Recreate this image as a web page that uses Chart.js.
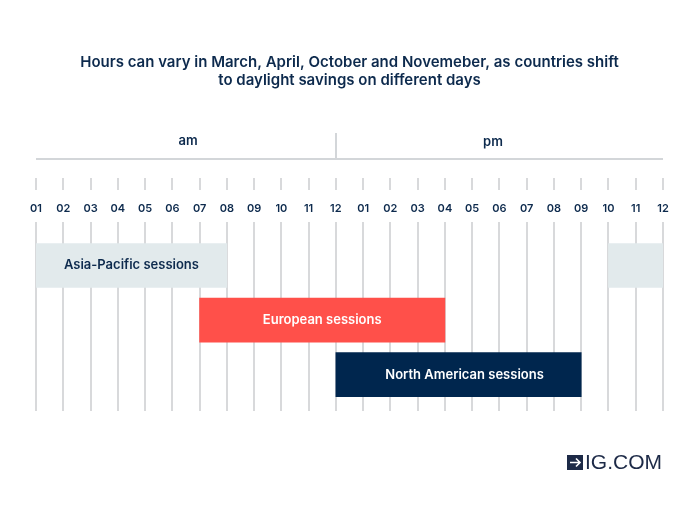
<!DOCTYPE html>
<html>
<head>
<meta charset="utf-8">
<script src="https://cdn.jsdelivr.net/npm/chart.js@4/dist/chart.umd.min.js"></script>
<style>
  html, body { margin: 0; padding: 0; background: #fff; }
  #wrap { width: 700px; height: 506px; }
</style>
</head>
<body>
<div id="wrap"><canvas id="sessionsChart"></canvas></div>
<script>
// Data
const hourLabels = ['01', '02', '03', '04', '05', '06', '07', '08', '09', '10', '11', '12',
                    '01', '02', '03', '04', '05', '06', '07', '08', '09', '10', '11', '12'];
const sessions = ['Asia-Pacific sessions', 'European sessions', 'North American sessions'];
const sessionStart = [0, 6, 11];   // index into hourLabels
const sessionEnd = [7, 15, 20];
const asiaLateStart = 21;
const asiaLateEnd = 23;
const periodLabels = ['am', 'pm'];

const navy = '#0d2a4d';
const fontFamily = 'Inter, "Noto Sans", sans-serif';

// Helpers
function hourAt(scale, i) {
  return scale.getPixelForValue(i);
}

// Plugin: header, tick marks, grid lines, bar labels, logo
const decorPlugin = {
  id: 'decor',
  beforeDatasetsDraw(chart) {
    const ctx = chart.ctx;
    const x = chart.scales.x;
    ctx.save();
    ctx.strokeStyle = '#d8d9db';
    ctx.lineWidth = 2;
    for (let i = 0; i < hourLabels.length; i++) {
      const px = Math.round(hourAt(x, i));
      ctx.beginPath();
      ctx.moveTo(px, 222);
      ctx.lineTo(px, 411);
      ctx.moveTo(px, 178);
      ctx.lineTo(px, 190);
      ctx.stroke();
    }
    // am / pm header
    ctx.strokeStyle = '#d3d6d9';
    ctx.beginPath();
    ctx.moveTo(x.left, 159);
    ctx.lineTo(x.right, 159);
    const mid = Math.round(hourAt(x, 11));
    ctx.moveTo(mid, 133);
    ctx.lineTo(mid, 159);
    ctx.stroke();
    ctx.fillStyle = navy;
    ctx.font = '600 13px ' + fontFamily;
    ctx.textAlign = 'center';
    ctx.textBaseline = 'middle';
    ctx.fillText(periodLabels[0], 188, 141);
    ctx.fillText(periodLabels[1], 493, 142);
    ctx.restore();
  },
  afterDatasetsDraw(chart) {
    const ctx = chart.ctx;
    const meta = chart.getDatasetMeta(0);
    ctx.save();
    ctx.font = '600 13px ' + fontFamily;
    ctx.textAlign = 'center';
    ctx.textBaseline = 'middle';
    meta.data.forEach((bar, i) => {
      const left = Math.min(bar.x, bar.base);
      const right = Math.max(bar.x, bar.base);
      ctx.fillStyle = i === 0 ? navy : '#ffffff';
      const shift = i === 2 ? 6 : 0;
      ctx.fillText(sessions[i], (left + right) / 2 + shift, bar.y);
    });
    // logo
    ctx.fillStyle = '#1d2a47';
    ctx.fillRect(567, 455, 16, 15);
    ctx.strokeStyle = '#ffffff';
    ctx.lineWidth = 1.6;
    ctx.beginPath();
    ctx.moveTo(570, 462.5);
    ctx.lineTo(580, 462.5);
    ctx.moveTo(576, 458.5);
    ctx.lineTo(580, 462.5);
    ctx.lineTo(576, 466.5);
    ctx.stroke();
    ctx.fillStyle = '#1d2a47';
    ctx.font = '400 21px "Liberation Sans", Arial, sans-serif';
    ctx.textAlign = 'left';
    ctx.fillText('IG.COM', 585, 463);
    ctx.restore();
  }
};

const ctx = document.getElementById('sessionsChart').getContext('2d');

const sessionsChart = new Chart(ctx, {
  type: 'bar',
  data: {
    labels: sessions,
    datasets: [{
      label: 'Sessions',
      data: sessions.map((s, i) => [sessionStart[i], sessionEnd[i]]),
      backgroundColor: ['#e2eaec', '#ff504a', '#00264e'],
      borderWidth: 0,
      borderSkipped: false,
      barThickness: 44
    }, {
      label: 'Asia-Pacific (late)',
      data: [[asiaLateStart, asiaLateEnd], null, null],
      backgroundColor: '#e2eaec',
      borderWidth: 0,
      barThickness: 44
    }]
  },
  options: {
    indexAxis: 'y',
    responsive: true,
    maintainAspectRatio: false,
    animation: false,
    grouped: false,
    layout: {
      padding: { left: 36, right: 37, top: 0, bottom: 104 }
    },
    plugins: {
      legend: { display: false },
      tooltip: { enabled: false },
      title: {
        display: true,
        text: ['Hours can vary in March, April, October and Novemeber, as countries shift',
               'to daylight savings on different days'],
        color: navy,
        font: { family: fontFamily, size: 15, weight: '600', lineHeight: 1.2 },
        padding: { top: 53, bottom: 98 }
      }
    },
    scales: {
      x: {
        type: 'linear',
        position: 'top',
        min: 0,
        max: 23,
        border: { display: false },
        grid: { display: false },
        ticks: {
          stepSize: 1,
          autoSkip: false,
          maxRotation: 0,
          padding: 15,
          color: navy,
          font: { family: fontFamily, size: 11, weight: '600' },
          callback: (v) => hourLabels[v]
        }
      },
      y: {
        display: false
      }
    }
  },
  plugins: [decorPlugin]
});
</script>
</body>
</html>
